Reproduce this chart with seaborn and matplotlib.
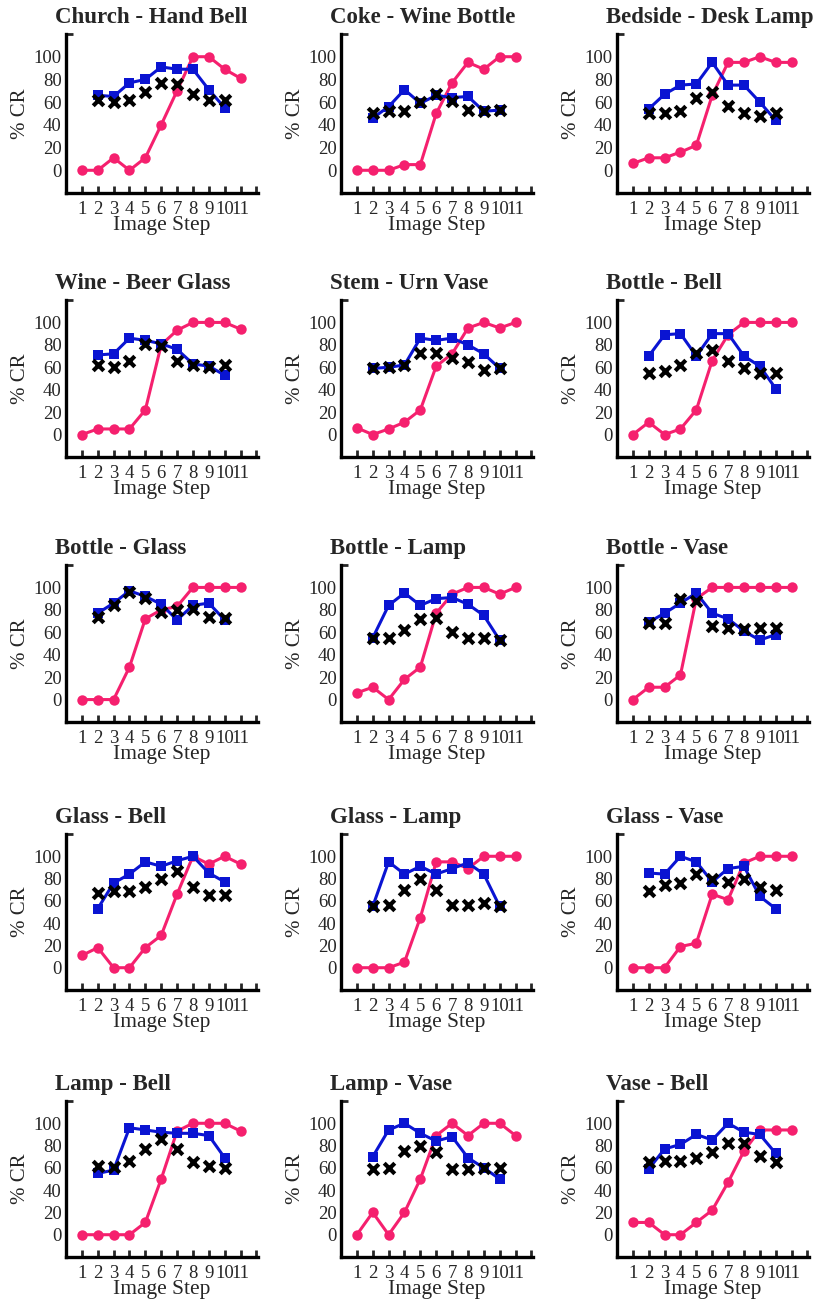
import matplotlib
matplotlib.use("Agg")
import matplotlib.pyplot as plt
import seaborn as sns
import pandas as pd

# ---- data: percent CR per image step ----
titles = [
    "Church - Hand Bell", "Coke - Wine Bottle", "Bedside - Desk Lamp",
    "Wine - Beer Glass", "Stem - Urn Vase", "Bottle - Bell",
    "Bottle - Glass", "Bottle - Lamp", "Bottle - Vase",
    "Glass - Bell", "Glass - Lamp", "Glass - Vase",
    "Lamp - Bell", "Lamp - Vase", "Vase - Bell",
]

pink_steps = list(range(1, 12))
other_steps = list(range(2, 11))

pink_vals = [
    [0, 0, 11, 0, 11, 40, 70, 100, 100, 89, 81],
    [0, 0, 0, 5, 5, 50, 77, 95, 89, 100, 100],
    [6, 11, 11, 16, 22, 66, 95, 95, 100, 95, 95],
    [0, 5, 5, 5, 22, 80, 93, 100, 100, 100, 94],
    [6, 0, 5, 11, 22, 61, 72, 95, 100, 95, 100],
    [0, 11, 0, 5, 22, 66, 89, 100, 100, 100, 100],
    [0, 0, 0, 29, 72, 80, 83, 100, 100, 100, 100],
    [6, 11, 0, 18, 29, 77, 94, 100, 100, 94, 100],
    [0, 11, 11, 22, 90, 100, 100, 100, 100, 100, 100],
    [11, 18, 0, 0, 18, 29, 66, 100, 93, 100, 93],
    [0, 0, 0, 5, 45, 95, 95, 89, 100, 100, 100],
    [0, 0, 0, 19, 22, 66, 61, 94, 100, 100, 100],
    [0, 0, 0, 0, 11, 50, 93, 100, 100, 100, 93],
    [0, 20, 0, 20, 50, 89, 100, 89, 100, 100, 89],
    [11, 11, 0, 0, 11, 22, 47, 75, 94, 94, 94],
]

blue_vals = [
    [66, 65, 77, 80, 91, 89, 89, 71, 55],
    [46, 56, 71, 59, 66, 64, 65, 52, 53],
    [54, 67, 75, 76, 95, 75, 75, 60, 44],
    [71, 72, 86, 84, 81, 76, 63, 61, 53],
    [59, 60, 62, 86, 84, 86, 80, 72, 59],
    [70, 89, 90, 70, 90, 90, 70, 61, 41],
    [77, 86, 97, 92, 85, 71, 84, 86, 71],
    [55, 84, 95, 84, 90, 91, 85, 75, 53],
    [69, 77, 86, 95, 77, 72, 61, 53, 58],
    [53, 76, 84, 95, 91, 96, 100, 85, 77],
    [55, 95, 84, 91, 84, 89, 94, 84, 55],
    [85, 84, 100, 95, 77, 89, 91, 64, 53],
    [55, 58, 96, 94, 92, 91, 91, 89, 69],
    [70, 94, 100, 91, 84, 88, 69, 60, 50],
    [59, 77, 81, 90, 85, 100, 92, 90, 73],
]

black_vals = [
    [62, 60, 62, 69, 77, 76, 67, 62, 62],
    [50, 52, 52, 60, 67, 61, 53, 52, 53],
    [50, 50, 52, 64, 69, 57, 50, 48, 50],
    [62, 60, 66, 81, 79, 66, 62, 60, 62],
    [59, 60, 62, 73, 73, 68, 65, 58, 59],
    [55, 57, 62, 73, 75, 66, 59, 55, 55],
    [74, 84, 96, 91, 78, 80, 81, 74, 73],
    [55, 55, 62, 72, 73, 60, 55, 55, 53],
    [68, 68, 90, 88, 66, 64, 63, 64, 64],
    [67, 69, 69, 72, 80, 87, 72, 65, 65],
    [55, 56, 70, 80, 70, 56, 56, 58, 55],
    [69, 74, 76, 84, 80, 77, 80, 72, 70],
    [62, 61, 66, 77, 86, 77, 65, 62, 60],
    [59, 60, 75, 80, 74, 59, 59, 60, 60],
    [65, 66, 66, 69, 74, 82, 82, 71, 65],
]

x_tick_labels = ["1", "2", "3", "4", "5", "6", "7", "8", "9", "10", "11", ""]
y_tick_labels = ["0", "20", "40", "60", "80", "100"]

# ---- styling ----
sns.set_style("ticks")
plt.rcParams["font.family"] = ["Liberation Serif", "DejaVu Serif"]

PINK = "#f5206e"
BLUE = "#0a14d2"

W, H = 829, 1301
fig = plt.figure(figsize=(W / 100, H / 100), dpi=100)

col_left = [66, 341, 617]
row_span = [(34, 193), (300, 457), (565, 722), (834, 990), (1101, 1257)]
ax_w = 192

for i, title in enumerate(titles):
    r, c = divmod(i, 3)
    top, bot = row_span[r]
    ax = fig.add_axes([col_left[c] / W, 1 - bot / H, ax_w / W, (bot - top) / H])

    dp = pd.DataFrame({"step": pink_steps, "cr": pink_vals[i]})
    db = pd.DataFrame({"step": other_steps, "cr": blue_vals[i]})
    dk = pd.DataFrame({"step": other_steps, "cr": black_vals[i]})

    sns.lineplot(data=dp, x="step", y="cr", ax=ax, color=PINK, linewidth=2.2,
                 marker="o", markersize=7.5, markeredgewidth=0, zorder=2)
    sns.lineplot(data=db, x="step", y="cr", ax=ax, color=BLUE, linewidth=2.2,
                 marker="s", markersize=7.5, markeredgewidth=0, zorder=3)
    sns.scatterplot(data=dk, x="step", y="cr", ax=ax, color="black",
                    marker="x", s=58, linewidth=3.0, zorder=4)

    ax.set_xlim(0, 12.1)
    ax.set_ylim(-20, 120)
    ax.set_xticks(list(range(1, 13)))
    ax.set_xticklabels(x_tick_labels)
    ax.set_yticks([0, 20, 40, 60, 80, 100])
    ax.set_yticklabels(y_tick_labels)
    ax.set_yticks([120], minor=True)

    ax.tick_params(axis="x", direction="in", length=5, width=2, pad=6,
                   labelsize=13.5)
    ax.tick_params(axis="y", which="major", length=0, pad=3, labelsize=13.5)
    ax.tick_params(axis="y", which="minor", direction="in", length=5, width=2)

    for side in ("top", "right"):
        ax.spines[side].set_visible(False)
    for side in ("left", "bottom"):
        ax.spines[side].set_linewidth(2.4)
        ax.spines[side].set_color("black")

    ax.set_xlabel("Image Step", fontsize=15.5, labelpad=-1.5)
    ax.set_ylabel("% CR", fontsize=15, labelpad=3)
    ax.text(-0.055, 1.07, title, transform=ax.transAxes, ha="left",
            va="baseline", fontsize=16.5, fontweight="bold")

fig.savefig("out.png", dpi=100)
